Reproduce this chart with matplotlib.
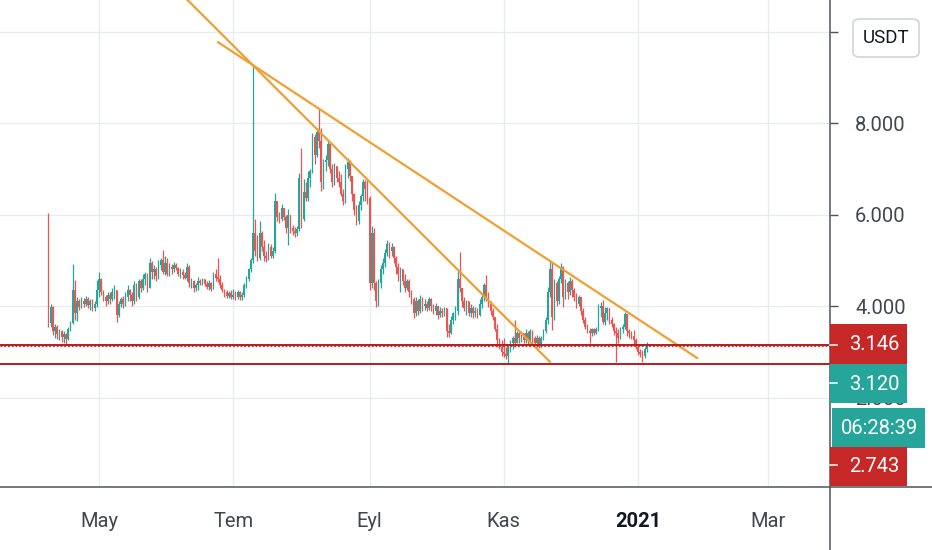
import matplotlib
matplotlib.use("Agg")
import matplotlib.pyplot as plt
import matplotlib.dates as mdates
from matplotlib.patches import Rectangle, FancyBboxPatch
from matplotlib.lines import Line2D
import numpy as np
import pandas as pd

plt.rcParams["font.family"] = ["Roboto", "DejaVu Sans"]

# Daily candles, 2020-04-08 .. 2021-01-05 (open = previous close)
start_date = "2020-04-08"
first_open = 4.0
close = [
    # Apr
    3.62, 3.98, 3.45, 3.55, 3.38, 3.45, 3.32, 3.38, 3.28, 3.50, 3.62, 4.35, 3.85, 4.10, 3.98, 4.12,
    4.05, 4.15, 4.02, 4.10, 3.95, 4.05, 4.35,
    # May
    4.60, 4.30, 4.20, 4.10, 4.25, 4.15, 4.30, 4.35, 3.80, 4.05, 4.15, 4.05, 4.20, 4.35, 4.25, 4.10,
    4.45, 4.20, 4.55, 4.40, 4.60, 4.70, 4.40, 4.95, 4.75, 4.80, 4.65, 4.90, 5.00, 4.75, 4.95,
    # Jun
    4.70, 4.85, 4.80, 4.90, 4.82, 4.70, 4.75, 4.68, 4.62, 4.85, 4.50, 4.55, 4.40, 4.45, 4.55, 4.50,
    4.58, 4.48, 4.42, 4.50, 4.38, 4.70, 4.62, 4.60, 4.45, 4.35, 4.30, 4.22, 4.28, 4.20,
    # Jul
    4.25, 4.20, 4.30, 4.20, 4.25, 4.45, 4.60, 4.80, 5.00, 5.60, 5.20, 5.05, 5.60, 5.30, 5.10, 5.05,
    5.30, 5.10, 5.20, 6.30, 5.95, 5.90, 6.15, 5.95, 5.70, 6.00, 5.70, 5.65, 5.60, 5.68, 6.80,
    # Aug
    5.90, 6.50, 6.35, 6.80, 6.95, 7.70, 7.30, 7.80, 7.60, 6.70, 7.15, 7.20, 7.55, 7.00, 6.70, 7.05,
    6.80, 6.70, 6.45, 6.30, 7.00, 7.15, 6.85, 6.45, 6.10, 5.85, 6.20, 6.40, 6.70, 6.55, 6.35,
    # Sep
    4.50, 5.60, 4.50, 4.10, 4.50, 4.80, 4.95, 5.15, 5.35, 5.20, 5.30, 5.05, 4.85, 4.70, 4.80, 4.55,
    4.40, 4.55, 4.30, 4.15, 3.85, 4.10, 3.90, 4.15, 4.00, 4.05, 3.95, 4.15, 4.00, 3.90,
    # Oct
    4.00, 3.80, 3.90, 3.85, 3.95, 3.45, 3.40, 3.70, 3.85, 3.90, 4.60, 4.40, 4.10, 3.95, 4.10, 3.85,
    3.95, 3.85, 3.90, 3.80, 4.05, 4.20, 4.45, 4.20, 4.05, 3.90, 3.75, 3.50, 3.25, 3.10, 3.00,
    # Nov
    2.95, 2.90, 3.10, 3.20, 3.30, 3.20, 3.40, 3.30, 3.40, 3.25, 3.40, 3.25, 3.45, 3.30, 3.20, 3.30,
    3.15, 3.30, 3.45, 3.70, 4.30, 4.80, 3.75, 4.50, 4.10, 4.60, 4.85, 4.20, 4.50, 4.30,
    # Dec
    4.55, 4.35, 4.20, 4.05, 4.20, 3.90, 3.70, 3.55, 3.45, 3.40, 3.50, 3.40, 3.50, 3.95, 4.00, 3.65,
    3.85, 3.95, 3.70, 3.60, 3.45, 3.40, 3.30, 3.50, 3.55, 3.82, 3.45, 3.40, 3.35, 3.25, 3.10,
    # Jan
    3.00, 2.95, 2.90, 3.05, 3.12,
]
high = [
    # Apr
    6.04, 4.04, 4.00, 3.60, 3.58, 3.50, 3.48, 3.45, 3.42, 3.55, 3.68, 4.92, 4.57, 4.20, 4.15, 4.20,
    4.18, 4.22, 4.20, 4.15, 4.15, 4.10, 4.57,
    # May
    4.74, 4.62, 4.35, 4.25, 4.30, 4.30, 4.40, 4.45, 4.35, 4.12, 4.20, 4.22, 4.30, 4.45, 4.38, 4.30,
    4.55, 4.50, 4.60, 4.58, 4.70, 4.75, 4.72, 5.04, 4.98, 4.90, 4.85, 5.00, 5.05, 5.22, 5.10,
    # Jun
    5.05, 4.95, 4.92, 4.96, 4.95, 4.85, 4.82, 4.80, 4.75, 4.93, 4.90, 4.62, 4.56, 4.50, 4.63, 4.60,
    4.62, 4.60, 4.55, 4.56, 4.52, 4.74, 4.80, 5.04, 4.68, 4.52, 4.38, 4.35, 4.33, 4.35,
    # Jul
    4.38, 4.32, 4.35, 4.33, 4.30, 4.50, 4.65, 4.83, 5.05, 9.24, 5.90, 5.55, 5.85, 5.65, 5.45, 5.20,
    5.38, 5.35, 5.30, 6.48, 6.25, 6.05, 6.22, 6.15, 6.00, 6.12, 5.95, 5.77, 5.72, 5.75, 6.91,
    # Aug
    7.45, 6.78, 6.70, 6.96, 7.00, 7.78, 7.75, 7.90, 8.32, 7.90, 7.22, 7.30, 7.62, 7.50, 7.10, 7.12,
    7.05, 6.95, 6.89, 6.55, 7.10, 7.24, 7.20, 6.85, 6.48, 6.20, 6.30, 6.45, 6.78, 6.75, 6.75,
    # Sep
    6.40, 5.75, 5.70, 4.55, 4.60, 4.90, 5.05, 5.25, 5.45, 5.40, 5.38, 5.32, 5.10, 4.95, 4.85, 4.80,
    4.70, 4.60, 4.60, 4.35, 4.20, 4.20, 4.15, 4.25, 4.20, 4.15, 4.10, 4.20, 4.18, 4.05,
    # Oct
    4.07, 4.00, 3.98, 3.95, 3.98, 3.70, 3.60, 3.78, 3.87, 4.00, 4.79, 5.18, 4.40, 4.20, 4.13, 4.10,
    4.05, 4.00, 3.98, 3.95, 4.15, 4.28, 4.50, 4.68, 4.30, 4.10, 3.95, 3.75, 3.60, 3.30, 3.26,
    # Nov
    3.30, 3.10, 3.15, 3.25, 3.35, 3.70, 3.45, 3.43, 3.45, 3.42, 3.50, 3.45, 3.50, 3.48, 3.35, 3.37,
    3.35, 3.35, 3.50, 3.76, 4.41, 5.00, 4.95, 4.60, 4.55, 4.65, 4.94, 4.88, 4.60, 4.55,
    # Dec
    4.63, 4.60, 4.40, 4.28, 4.25, 4.20, 3.95, 3.76, 3.60, 3.52, 3.52, 3.52, 3.55, 4.05, 4.09, 4.13,
    3.98, 3.98, 3.96, 3.75, 3.63, 3.54, 3.50, 3.55, 3.60, 3.87, 3.75, 3.50, 3.45, 3.48, 3.30,
    # Jan
    3.15, 3.05, 3.04, 3.10, 3.21,
]
low = [
    # Apr
    3.54, 3.55, 3.37, 3.30, 3.28, 3.25, 3.22, 3.20, 3.17, 3.25, 3.45, 3.60, 3.70, 3.68, 3.92, 3.95,
    3.98, 4.00, 3.95, 3.92, 3.90, 3.90, 3.98,
    # May
    4.20, 4.25, 4.10, 4.00, 4.05, 4.05, 4.10, 4.15, 3.65, 3.75, 3.98, 3.95, 4.00, 4.10, 4.10, 4.00,
    4.05, 4.10, 4.15, 4.30, 4.35, 4.45, 4.30, 4.40, 4.60, 4.60, 4.55, 4.60, 4.78, 4.70, 4.68,
    # Jun
    4.65, 4.65, 4.70, 4.75, 4.78, 4.65, 4.62, 4.60, 4.58, 4.55, 4.42, 4.40, 4.30, 4.32, 4.35, 4.45,
    4.45, 4.44, 4.38, 4.35, 4.33, 4.38, 4.55, 4.52, 4.40, 4.30, 4.20, 4.17, 4.18, 4.15,
    # Jul
    4.15, 4.13, 4.15, 4.14, 4.13, 4.20, 4.40, 4.55, 4.75, 4.95, 5.10, 4.98, 5.00, 5.20, 4.98, 4.96,
    5.00, 5.05, 5.05, 5.15, 5.85, 5.82, 5.85, 5.88, 5.60, 5.33, 5.60, 5.55, 5.50, 5.52, 5.65,
    # Aug
    5.70, 5.85, 6.30, 6.30, 6.60, 6.90, 7.10, 7.25, 7.45, 6.52, 6.55, 6.95, 7.05, 6.90, 6.60, 6.65,
    6.70, 6.60, 6.40, 6.20, 6.25, 6.80, 6.74, 6.30, 6.00, 5.76, 5.80, 6.10, 6.30, 6.30, 6.24,
    # Sep
    4.35, 4.40, 4.35, 3.98, 4.00, 4.40, 4.70, 4.85, 5.10, 5.05, 5.10, 4.95, 4.70, 4.55, 4.30, 4.45,
    4.30, 4.35, 4.20, 4.05, 3.74, 3.78, 3.80, 3.85, 3.90, 3.92, 3.88, 3.92, 3.88, 3.82,
    # Oct
    3.80, 3.72, 3.75, 3.76, 3.78, 3.33, 3.32, 3.38, 3.60, 3.70, 3.80, 4.30, 3.98, 3.90, 3.80, 3.78,
    3.76, 3.74, 3.75, 3.73, 3.78, 3.95, 4.10, 4.10, 3.98, 3.80, 3.70, 3.45, 3.10, 3.05, 2.90,
    # Nov
    2.88, 2.85, 2.75, 3.00, 3.05, 3.10, 3.20, 3.20, 3.22, 3.19, 3.20, 3.15, 3.20, 3.18, 3.10, 3.10,
    3.08, 3.10, 3.25, 3.40, 3.60, 4.20, 3.48, 3.70, 4.00, 4.05, 4.50, 3.98, 4.15, 4.15,
    # Dec
    4.25, 4.20, 4.10, 3.95, 4.00, 3.80, 3.63, 3.50, 3.40, 3.20, 3.35, 3.37, 3.38, 3.45, 3.75, 3.60,
    3.58, 3.70, 3.60, 3.55, 3.37, 2.78, 3.20, 3.28, 3.40, 3.50, 3.35, 3.30, 3.28, 3.15, 3.05,
    # Jan
    2.93, 2.88, 2.78, 2.86, 3.00,
]

# drawn trend lines (date, price) and horizontal levels
steep_line_dates = ["2020-06-10", "2020-11-22"]
steep_line_prices = [10.70, 2.78]
flat_line_dates = ["2020-06-24", "2021-01-28"]
flat_line_prices = [9.77, 2.86]
level_upper = 3.146
level_lower = 2.743
last_price = 3.120
countdown = "06:28:39"

month_ticks = ["2020-05-01", "2020-07-01", "2020-09-01", "2020-11-01", "2021-01-01", "2021-03-01"]
month_labels = ["May", "Tem", "Eyl", "Kas", "2021", "Mar"]
price_ticks = [2, 4, 6, 8, 10]

UP = "#26a69a"
DOWN = "#ef5350"
LEVEL = "#b71c1c"
TREND = "#f0a030"
AXIS = "#50535e"
TXT = "#434651"

dates = pd.date_range(start_date, periods=len(close), freq="D")
x = mdates.date2num(dates)
c = np.array(close)
o = np.array([first_open] + close[:-1])
h = np.maximum(np.array(high), np.maximum(o, c))
l = np.minimum(np.array(low), np.minimum(o, c))
cols = np.where(c >= o, UP, DOWN)

W, H = 932, 550
fig = plt.figure(figsize=(W / 100, H / 100), dpi=100)
fig.patch.set_facecolor("white")
ax = fig.add_axes([0, 63 / H, 830 / W, 487 / H])

ax.vlines(x, l, h, colors=cols, lw=0.9, zorder=3)
body = np.maximum(np.abs(c - o), 0.025)
ax.bar(x, body, bottom=np.minimum(o, c), width=0.7, color=cols, lw=0, zorder=3)

ax.plot(mdates.datestr2num(steep_line_dates), steep_line_prices, color=TREND, lw=1.6, zorder=4,
        solid_capstyle="round")
ax.plot(mdates.datestr2num(flat_line_dates), flat_line_prices, color=TREND, lw=1.6, zorder=4,
        solid_capstyle="round")

ax.axhline(level_upper, color=LEVEL, lw=1.4, zorder=5)
ax.axhline(last_price, color="#d32f2f", lw=0.9, ls=(0, (1.5, 1.5)), zorder=5)
ax.axhline(level_lower, color=LEVEL, lw=1.4, zorder=5)

x0 = mdates.datestr2num("2020-05-01")
ax.set_xlim(x0 - 45, x0 + 332.3)
ax.set_ylim(4 - 181 / 45.75, 4 + 306 / 45.75)

for s in ax.spines.values():
    s.set_visible(False)

ax.yaxis.tick_right()
ax.set_yticks(price_ticks)
ax.set_yticklabels([f"{v:.3f}" for v in price_ticks])
ax.tick_params(axis="y", direction="out", length=6, width=1, color=AXIS, pad=12,
               labelsize=14.5, labelcolor=TXT)
ax.set_xticks(mdates.datestr2num(month_ticks))
ax.set_xticklabels(month_labels)
ax.tick_params(axis="x", length=0, pad=18, labelsize=14.5, labelcolor=TXT)
for lab in ax.get_xticklabels():
    if lab.get_text() == "2021":
        lab.set_fontweight("bold")
        lab.set_color("#131722")

ax.grid(True, color="#e8ebf0", lw=1, zorder=0)
ax.set_axisbelow(True)

# axis frame lines across whole figure
fig.add_artist(Line2D([0, 1], [63 / H, 63 / H], color=AXIS, lw=1.1, transform=fig.transFigure))
fig.add_artist(Line2D([830 / W, 830 / W], [0, 1], color=AXIS, lw=1.1, transform=fig.transFigure))


def px_box(x0p, y0p, x1p, y1p, color):
    fig.add_artist(Rectangle((x0p / W, 1 - y1p / H), (x1p - x0p) / W, (y1p - y0p) / H,
                             transform=fig.transFigure, facecolor=color, edgecolor="none", zorder=6))


def px_text(xp, yp, s, **kw):
    fig.text(xp / W, 1 - yp / H, s, transform=fig.transFigure, zorder=7, **kw)


def px_tick(yp):
    fig.add_artist(Line2D([830 / W, 837 / W], [1 - yp / H, 1 - yp / H], color="white", lw=1.1,
                          transform=fig.transFigure, zorder=7))


px_box(830, 324, 907, 364, "#c62828")
px_tick(344.5)
px_text(849, 345, f"{level_upper:.3f}", color="white", fontsize=14.5, va="center")
px_box(830, 364, 907, 403, UP)
px_tick(383)
px_text(849, 384, f"{last_price:.3f}", color="white", fontsize=14.5, va="center")
px_box(832, 408, 925, 448, UP)
px_text(841, 429, countdown, color="white", fontsize=14.5, va="center")
px_box(830, 447, 907, 486, "#c62828")
px_tick(465)
px_text(849, 466, f"{level_lower:.3f}", color="white", fontsize=14.5, va="center")

# currency button over the top price label
usdt = FancyBboxPatch((853 / W, 1 - 57 / H), 66 / W, 38 / H, boxstyle="round,pad=0,rounding_size=0.008",
                      transform=fig.transFigure, facecolor="white", edgecolor="#d1d4dc", lw=1.2, zorder=6)
fig.add_artist(usdt)
px_text(886, 38, "USDT", color="#131722", fontsize=13.5, ha="center", va="center")

fig.savefig("out.png", dpi=100, facecolor="white")
